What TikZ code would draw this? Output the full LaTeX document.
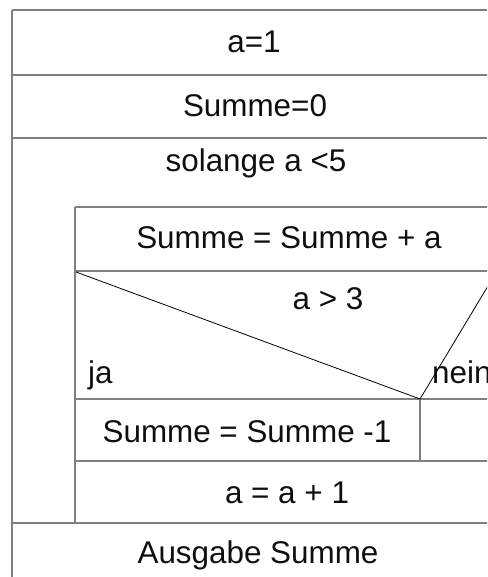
\documentclass[tikz,border=0pt]{standalone}
\usepackage{fontspec}
\setmainfont{Liberation Sans}
\definecolor{lc}{RGB}{128,128,128}
\definecolor{tc}{RGB}{15,15,15}
\begin{document}
\begin{tikzpicture}[x=1pt,y=-1pt,
  ln/.style={draw=lc,line width=1.8pt},
  dg/.style={draw=black,line width=0.8pt},
  txt/.style={anchor=base,inner sep=0pt,text=tc,font=\fontsize{31.4}{36}\selectfont},
  txtl/.style={txt,anchor=base west}]
\useasboundingbox (0,0) rectangle (487,577);
\begin{scope}
\clip (0,0) rectangle (487,577);
\fill[white] (0,0) rectangle (487,577);
% outer frame and rows
\draw[ln] (12,10) -- (510,10);
\draw[ln] (12,10) -- (12,600);
\draw[ln] (12,75) -- (510,75);
\draw[ln] (12,138) -- (510,138);
% loop body
\draw[ln] (75,207) -- (510,207);
\draw[ln] (75,207) -- (75,523);
\draw[ln] (75,271) -- (510,271);
\draw[ln] (75,399) -- (510,399);
\draw[ln] (420,399) -- (420,461);
\draw[ln] (75,461) -- (510,461);
\draw[ln] (12,523) -- (510,523);
% texts
\node[txt] (t1) at (254,53) {a=1};
\node[txt] (t2) at (255,117) {Summe=0};
\node[txt] (t3) at (256,172) {solange a <5};
\node[txt] (t4) at (289,248) {Summe = Summe + a};
\node[txt] (t5) at (328,309) {a > 3};
\node[txtl] (t6) at (88,383) {ja};
\node[txtl] (t7) at (432,383) {nein};
\node[txt] (t8) at (247,442) {Summe = Summe -1};
\node[txt] (t9) at (287,503) {a = a + 1};
\node[txt] (t10) at (258,563) {Ausgabe Summe};
% decision diagonals
\coordinate (dl) at (76,272);
\coordinate (apex) at (420,399);
\coordinate (dr) at (497,271);
\draw[dg] (dl) -- (apex) -- (dr);
\end{scope}
\end{tikzpicture}
\end{document}
